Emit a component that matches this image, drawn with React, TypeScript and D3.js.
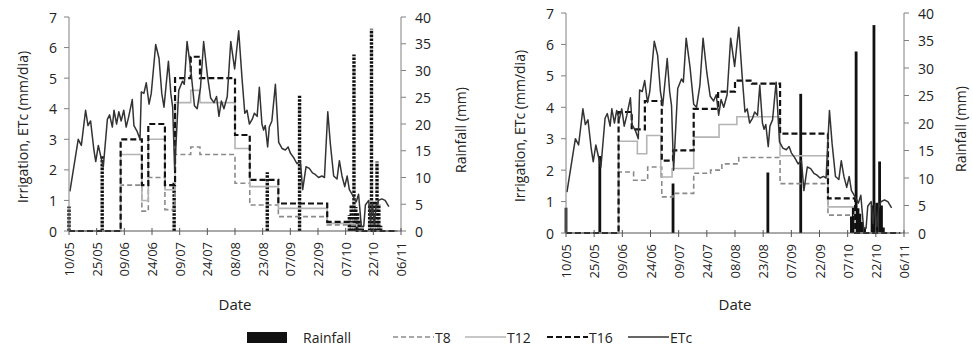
import * as d3 from "d3"

// x = days after 10/05
const tickDays = [0, 15, 30, 45, 60, 75, 90, 105, 120, 135, 150, 165, 180]
const tickLabels = ["10/05", "25/05", "09/06", "24/06", "09/07", "24/07", "08/08", "23/08", "07/09", "22/09", "07/10", "22/10", "06/11"]
const leftTicks = [0, 1, 2, 3, 4, 5, 6, 7]
const rightTicks = [0, 5, 10, 15, 20, 25, 30, 35, 40]

const etc: [number, number][] = [
  [0.5, 1.3], [5, 3.0], [6.7, 2.8], [9, 3.95], [10.3, 3.45], [11.7, 3.6], [13.5, 2.65], [14.5, 2.27],
  [15.9, 2.8], [17.2, 2.45], [18.6, 2.1], [20.8, 3.65], [22, 3.8], [23.5, 3.4], [24.4, 3.95], [25.8, 3.5],
  [27, 3.9], [28.3, 3.6], [29.7, 3.95], [31, 3.4], [32.4, 3.75], [34.3, 4.3], [35.2, 3.45], [37, 3.25],
  [38.5, 3.0], [39.2, 4.55], [40.6, 4.5], [41.9, 4.85], [43.4, 4.15], [44.6, 4.5], [47, 6.1], [48.8, 5.65],
  [50.3, 4.5], [51.5, 4.05], [53.9, 5.55], [55.2, 4.5], [56.2, 4.05], [57.3, 2.0], [59.5, 4.6], [61.5, 4.9],
  [62.5, 4.8], [64, 6.2], [66, 5.3], [68, 4.1], [69.5, 4.0], [71.3, 4.7], [73, 6.2], [75, 5.1],
  [76.8, 4.35], [78.6, 4.2], [80, 4.4], [81.3, 3.75], [82.6, 4.25], [84, 4.0], [85.8, 4.4], [87.7, 6.2],
  [89.8, 5.3], [92, 6.55], [93.8, 5.0], [95.3, 3.85], [96.5, 3.95], [97.8, 3.5], [99.3, 3.65], [100.5, 3.85],
  [102, 3.75], [103.2, 4.7], [104.6, 3.5], [105.5, 3.3], [106.4, 3.45], [107.7, 2.75], [108.6, 3.4], [110, 3.6],
  [111.9, 4.8], [113.7, 2.9], [115.5, 2.7], [117.3, 2.65], [118.8, 2.75], [120, 2.55], [121.8, 2.4], [123.6, 2.2],
  [125.4, 2.3], [126.7, 1.35], [128.5, 2.1], [130.3, 2.05], [132, 1.9], [133.5, 1.85], [135.3, 1.75], [137.1, 1.8],
  [138.5, 1.75], [140.3, 3.9], [141.7, 2.85], [143.5, 1.8], [145.3, 1.7], [146.6, 2.3], [148, 1.8], [149.5, 1.45],
  [150.8, 1.8], [152, 1.35], [153.5, 1.2], [155.7, 0.95], [157, 1.2], [158.5, 0.15], [159.8, 0.15], [160.7, 0.85],
  [162.5, 1.0], [163.5, 0.3], [164.5, 0.9], [165.5, 0.2], [166.5, 0.8], [167.8, 1.0], [169.6, 1.05], [171.4, 1.0],
  [173.4, 0.8],
]

const rainDays = [0, 18, 57, 107.5, 125, 152, 153, 154.5, 155.5, 156.5, 157.5, 159, 163, 164, 165.5, 167, 168, 169]
const rainMm = [4.6, 14, 9, 11, 25.3, 3, 4.8, 33, 4.5, 3.5, 2, 1, 5, 37.8, 5.5, 13, 5, 1]

// irrigation steps [start day, mm/dia]
const leftT8: [number, number][] = [[0, 0], [28, 1.5], [39.5, 0.65], [43, 1.75], [52, 0.7], [57.5, 2.5], [66, 2.75], [71, 2.5], [90, 1.56], [98, 0.85], [113.5, 0.47], [140, 0.2], [156, 0], [178, 0]]
const leftT12: [number, number][] = [[0, 0], [28, 2.5], [39.5, 1.0], [43, 3.0], [52, 1.35], [57.5, 4.2], [66, 4.6], [71, 4.2], [90, 2.7], [98, 1.45], [113.5, 0.74], [140, 0.25], [156, 0], [178, 0]]
const leftT16: [number, number][] = [[0, 0], [28, 3.0], [39.5, 1.5], [43, 3.5], [52, 1.5], [57.5, 5.0], [66, 5.7], [71, 5.0], [90, 3.14], [98, 1.67], [113.5, 0.9], [140, 0.3], [156, 0], [178, 0]]

const rightT8: [number, number][] = [[0, 0], [28, 1.94], [36, 1.68], [43.5, 2.1], [51, 1.15], [57, 1.26], [68, 1.9], [77, 2.0], [83, 2.2], [92, 2.4], [114, 1.57], [139.5, 0.57], [154, 0], [178, 0]]
const rightT12: [number, number][] = [[0, 0], [28, 2.92], [38, 2.52], [43, 3.1], [50.5, 1.78], [56.5, 2.05], [68, 3.05], [81.5, 3.45], [91, 3.7], [114, 2.46], [139.5, 0.83], [154, 0], [178, 0]]
const rightT16: [number, number][] = [[0, 0], [28, 3.85], [35, 3.3], [42, 4.2], [51, 2.3], [57, 2.63], [68, 3.95], [81, 4.5], [90, 4.85], [99, 4.75], [114, 3.16], [139.5, 1.1], [154, 0], [178, 0]]

const FONT = "'Open Sans', sans-serif"
const TEXT = "#222"
const AXIS = "#808080"

interface PanelProps {
  x0: number
  x1: number
  top: number
  bottom: number
  t8: [number, number][]
  t12: [number, number][]
  t16: [number, number][]
  hatched: boolean
  yLabelX: number
  rLabelX: number
}

function Panel({ x0, x1, top, bottom, t8, t12, t16, hatched, yLabelX, rLabelX }: PanelProps) {
  const x = d3.scaleLinear().domain([0, 180]).range([x0, x1])
  const y = d3.scaleLinear().domain([0, 7]).range([bottom, top])
  const yr = d3.scaleLinear().domain([0, 40]).range([bottom, top])

  const step = d3.line<[number, number]>().x((d) => x(d[0])).y((d) => y(d[1])).curve(d3.curveStepAfter)
  const line = d3.line<[number, number]>().x((d) => x(d[0])).y((d) => y(d[1]))
  const midY = (top + bottom) / 2

  return (
    <g fontFamily={FONT} fill={TEXT}>
      {/* rainfall bars */}
      {rainDays.map((d, i) =>
        hatched ? (
          <line key={i} x1={x(d)} x2={x(d)} y1={bottom} y2={yr(rainMm[i])}
            stroke="#111" strokeWidth={3.4} strokeDasharray="2.6,1.2" />
        ) : (
          <rect key={i} x={x(d) - 1.4} y={yr(rainMm[i])} width={2.8} height={bottom - yr(rainMm[i])} fill="#111" />
        )
      )}

      <path d={step(t8) || ""} fill="none" stroke="#8a8a8a" strokeWidth={1.6} strokeDasharray="5,3" />
      <path d={step(t12) || ""} fill="none" stroke="#b4b4b4" strokeWidth={1.6} />
      <path d={step(t16) || ""} fill="none" stroke="#111" strokeWidth={2.2} strokeDasharray="6,3" />
      <path d={line(etc) || ""} fill="none" stroke="#333" strokeWidth={1.5} strokeLinejoin="round" />

      {/* axes */}
      <line x1={x0} x2={x0} y1={top} y2={bottom} stroke={AXIS} />
      <line x1={x1} x2={x1} y1={top} y2={bottom} stroke={AXIS} />
      <line x1={x0} x2={x1} y1={bottom} y2={bottom} stroke="#555" />

      {leftTicks.map((t) => (
        <g key={"l" + t}>
          <line x1={x0 - 5} x2={x0} y1={y(t)} y2={y(t)} stroke={AXIS} />
          <text x={x0 - 12} y={y(t)} textAnchor="end" dominantBaseline="central" fontSize={14}>{t}</text>
        </g>
      ))}
      {rightTicks.map((t) => (
        <g key={"r" + t}>
          <line x1={x1} x2={x1 + 5} y1={yr(t)} y2={yr(t)} stroke={AXIS} />
          <text x={x1 + 14} y={yr(t)} textAnchor="start" dominantBaseline="central" fontSize={14}>{t}</text>
        </g>
      ))}
      {tickDays.map((t, i) => (
        <g key={"x" + t}>
          <line x1={x(t)} x2={x(t)} y1={bottom - 3} y2={bottom + 4} stroke="#555" />
          <text transform={`translate(${x(t)},${bottom + 11}) rotate(-90)`} textAnchor="end"
            dominantBaseline="central" fontSize={13}>{tickLabels[i]}</text>
        </g>
      ))}

      <text x={(x0 + x1) / 2} y={310} textAnchor="middle" fontSize={15}>Date</text>
      <text transform={`translate(${yLabelX},${midY + 3}) rotate(-90)`} textAnchor="middle"
        dominantBaseline="central" fontSize={14}>Irrigation, ETc (mm/dia)</text>
      <text transform={`translate(${rLabelX},${midY + 6}) rotate(-90)`} textAnchor="middle"
        dominantBaseline="central" fontSize={14}>Rainfall (mm)</text>
    </g>
  )
}

function Legend() {
  const ly = 337
  const items = [
    { x: 393, label: "T8", stroke: "#8a8a8a", w: 1.6, dash: "5,3" },
    { x: 465, label: "T12", stroke: "#b4b4b4", w: 1.6, dash: undefined },
    { x: 547, label: "T16", stroke: "#111", w: 2.2, dash: "6,3" },
    { x: 628, label: "ETc", stroke: "#333", w: 1.5, dash: undefined },
  ]
  return (
    <g fontFamily={FONT} fill={TEXT} fontSize={14}>
      <rect x={247} y={332} width={40} height={11} fill="#111" />
      <text x={303} y={ly} dominantBaseline="central">Rainfall</text>
      {items.map((it) => (
        <g key={it.label}>
          <line x1={it.x} x2={it.x + 41} y1={ly} y2={ly} stroke={it.stroke} strokeWidth={it.w} strokeDasharray={it.dash} />
          <text x={it.x + 42} y={ly} dominantBaseline="central">{it.label}</text>
        </g>
      ))}
    </g>
  )
}

export default function App() {
  return (
    <svg width={973} height={349} style={{ position: "absolute", left: 0, top: 0, background: "#fff" }}>
      <rect width={973} height={349} fill="#fff" />
      <Panel x0={69} x1={401} top={17} bottom={231} t8={leftT8} t12={leftT12} t16={leftT16}
        hatched={true} yLabelX={22} rLabelX={460} />
      <Panel x0={566} x1={904} top={13} bottom={233} t8={rightT8} t12={rightT12} t16={rightT16}
        hatched={false} yLabelX={519} rLabelX={960} />
      <Legend />
    </svg>
  )
}
